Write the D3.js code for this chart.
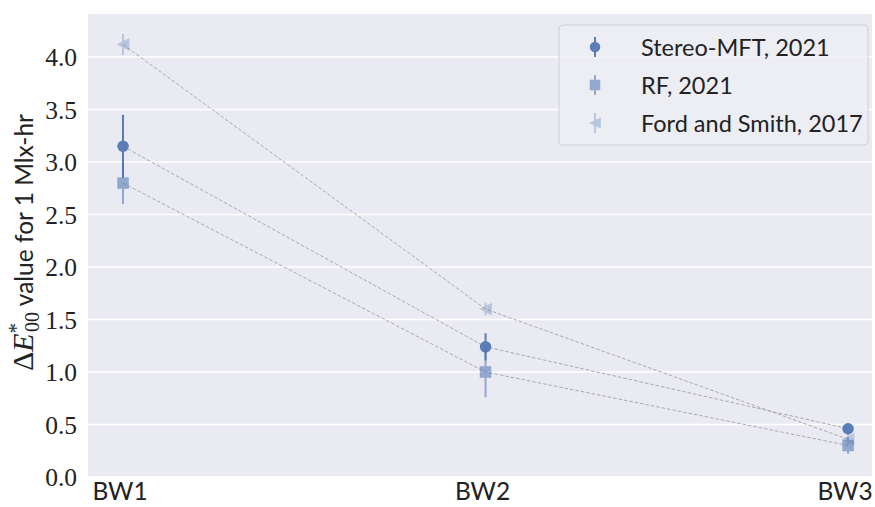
<!DOCTYPE html>
<html><head><meta charset="utf-8">
<script src="https://cdn.jsdelivr.net/npm/d3@7"></script>
<style>body{margin:0;background:#fff}svg{display:block}</style>
</head><body>
<script>
const categories = ["BW1", "BW2", "BW3"];
const seriesNames = ["Stereo-MFT, 2021", "RF, 2021", "Ford and Smith, 2017"];
const stereoValues = [3.15, 1.24, 0.46];
const stereoErrors = [0.30, 0.13, 0.03];
const rfValues = [2.80, 1.00, 0.30];
const rfErrors = [0.20, 0.24, 0.08];
const fordValues = [4.12, 1.60, 0.36];
const fordErrors = [0.10, 0.06, 0.05];
const yTicks = [0.0, 0.5, 1.0, 1.5, 2.0, 2.5, 3.0, 3.5, 4.0];

const W = 875, H = 507;
const L = 88, R = 872, T = 14, B = 477;
const svg = d3.select("body").append("svg").attr("width", W).attr("height", H);

const x = d3.scaleLinear().domain([-0.0966, 2.066]).range([L, R]);
const y = d3.scaleLinear().domain([0, 4.41]).range([B, T]);
const color = "#4C72B0";

svg.append("rect").attr("x", L).attr("y", T).attr("width", R - L).attr("height", B - T).attr("fill", "#EAEAF2");

// grid
svg.append("g").selectAll("line").data(yTicks).join("line")
  .attr("x1", L).attr("x2", R).attr("y1", d => y(d)).attr("y2", d => y(d))
  .attr("stroke", "#fff").attr("stroke-width", 1.4);

// y tick labels
svg.append("g").selectAll("text").data(yTicks).join("text")
  .attr("x", 77).attr("y", d => y(d) + 9).attr("text-anchor", "end")
  .attr("font-family", "'Liberation Serif', serif").attr("font-size", 25.5).attr("fill", "#222")
  .text(d => d.toFixed(1));

// x tick labels
svg.append("g").selectAll("text").data(categories).join("text")
  .attr("x", (d, i) => x(i) - 3).attr("y", 500).attr("text-anchor", "middle")
  .attr("font-family", "Lato, sans-serif").attr("font-size", 24.5).attr("fill", "#222")
  .text(d => d);

// y label
const yl = svg.append("text")
  .attr("transform", `translate(33,${242.5}) rotate(-90)`)
  .attr("text-anchor", "middle").attr("font-size", 24.5).attr("fill", "#222")
  .attr("font-family", "Lato, sans-serif");
yl.append("tspan").attr("font-family", "'Liberation Serif', serif").attr("font-size", 30).text("\u0394");
yl.append("tspan").attr("font-family", "'Liberation Serif', serif").attr("font-size", 30).attr("font-style", "italic").text("E");
yl.append("tspan").attr("font-family", "'Liberation Serif', serif").attr("font-size", 21).attr("dy", -10).text("*");
yl.append("tspan").attr("font-family", "'Liberation Serif', serif").attr("font-size", 20).attr("dx", -9).attr("dy", 16).text("00");
yl.append("tspan").attr("dy", -6).text(" value for 1 Mlx-hr");

const series = [
  {name: seriesNames[0], values: stereoValues, errors: stereoErrors, alpha: 0.9, shape: "circle"},
  {name: seriesNames[1], values: rfValues, errors: rfErrors, alpha: 0.55, shape: "square"},
  {name: seriesNames[2], values: fordValues, errors: fordErrors, alpha: 0.3, shape: "triangle"}
];

// dashed connecting lines
const line = d3.line().x((d, i) => x(i)).y(d => y(d));
series.forEach(s => {
  svg.append("path").attr("d", line(s.values)).attr("fill", "none")
    .attr("stroke", "#999").attr("stroke-width", 0.8).attr("stroke-dasharray", "3.5,2");
});

function marker(g, shape, cx, cy, size) {
  if (shape === "circle") {
    g.append("circle").attr("cx", cx).attr("cy", cy).attr("r", size / 2);
  } else if (shape === "square") {
    g.append("rect").attr("x", cx - size / 2).attr("y", cy - size / 2).attr("width", size).attr("height", size);
  } else {
    const h = size * 0.55;
    g.append("path").attr("d", `M${cx - h},${cy} L${cx + h},${cy - h} L${cx + h},${cy + h} Z`);
  }
}

series.forEach(s => {
  const g = svg.append("g").attr("fill", color).attr("stroke", color);
  s.values.forEach((v, i) => {
    const gg = g.append("g").attr("opacity", s.alpha);
    gg.append("line").attr("x1", x(i)).attr("x2", x(i))
      .attr("y1", y(v - s.errors[i])).attr("y2", y(v + s.errors[i]))
      .attr("stroke-width", 2);
    const mg = gg.append("g").attr("stroke", "none");
    marker(mg, s.shape, x(i), y(v), 11.5);
  });
});

// legend
const lg = svg.append("g");
lg.append("rect").attr("x", 559).attr("y", 25).attr("width", 309).attr("height", 120)
  .attr("rx", 4).attr("fill", "#EDEDF4").attr("fill-opacity", 0.85).attr("stroke", "#CFCFD6").attr("stroke-width", 1);
series.forEach((s, i) => {
  const cy = 47 + i * 38;
  const g = lg.append("g").attr("fill", color).attr("stroke", color).attr("opacity", s.alpha);
  g.append("line").attr("x1", 595).attr("x2", 595).attr("y1", cy - 10).attr("y2", cy + 10).attr("stroke-width", 2);
  const mg = g.append("g").attr("stroke", "none");
  marker(mg, s.shape, 595, cy, 10.5);
  lg.append("text").attr("x", 641).attr("y", cy + 8.5)
    .attr("font-family", "Lato, sans-serif").attr("font-size", 23.5).attr("fill", "#222").text(s.name);
});
</script>
</body></html>
